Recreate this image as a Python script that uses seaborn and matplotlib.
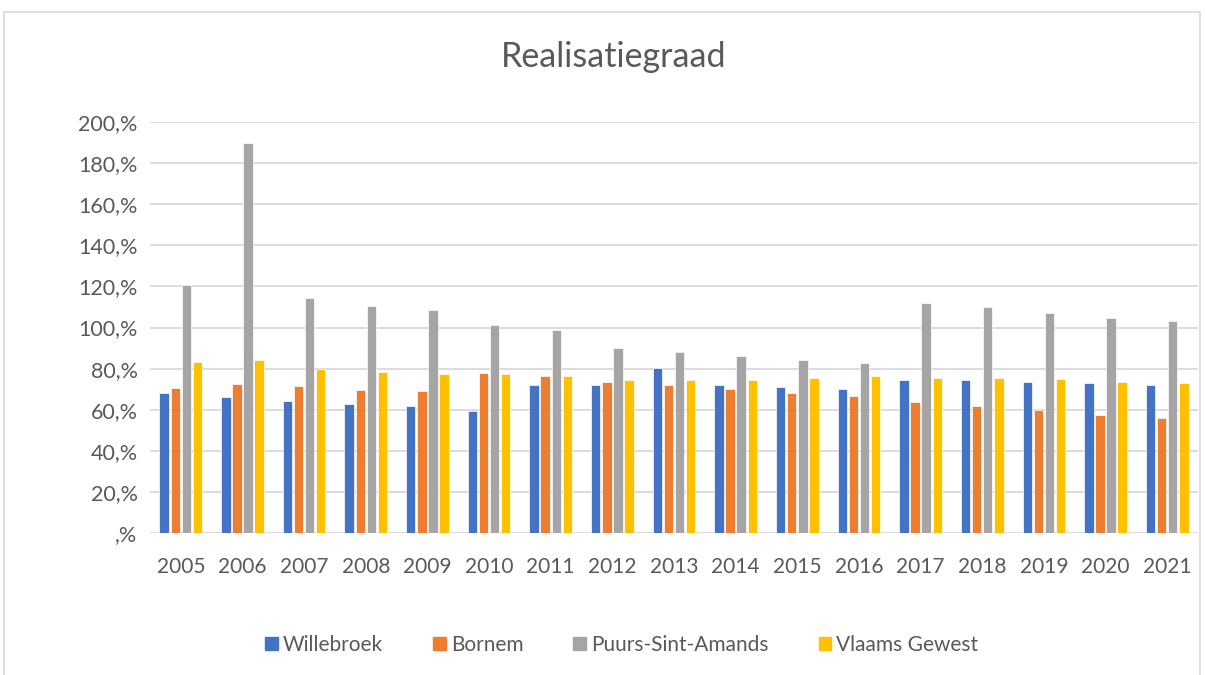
import matplotlib
matplotlib.use("Agg")
import matplotlib.pyplot as plt
from matplotlib.patches import Rectangle
import numpy as np
import pandas as pd
import seaborn as sns

years = [str(y) for y in range(2005, 2022)]
series_names = ["Willebroek", "Bornem", "Puurs-Sint-Amands", "Vlaams Gewest"]

willebroek = [68.2, 66.2, 64.3, 62.8, 61.7, 59.6, 72.1, 71.8, 80.2, 71.8,
              71.0, 70.2, 74.6, 74.4, 73.6, 72.8, 72.0]
bornem = [70.8, 72.4, 71.7, 69.5, 69.0, 78.0, 76.5, 73.4, 71.8, 70.0,
          68.1, 66.6, 63.9, 61.8, 60.0, 57.5, 56.2]
puurs = [120.6, 190.0, 114.3, 110.6, 108.3, 101.1, 98.9, 89.8, 88.2, 85.9,
         84.1, 82.7, 112.0, 109.9, 107.0, 104.4, 103.4]
vlaams = [83.2, 84.2, 79.8, 78.4, 77.6, 77.3, 76.5, 74.4, 74.6, 74.6,
          75.2, 76.3, 75.2, 75.2, 74.7, 73.6, 72.9]

y_ticks = [0, 20, 40, 60, 80, 100, 120, 140, 160, 180, 200]
y_tick_labels = [",%", "20,%", "40,%", "60,%", "80,%", "100,%", "120,%",
                 "140,%", "160,%", "180,%", "200,%"]

colors = ["#4472C4", "#ED7D31", "#A5A5A5", "#FFC000"]
text_color = "#595959"

# long format for seaborn
frames = []
for name, vals in zip(series_names, [willebroek, bornem, puurs, vlaams]):
    frames.append(pd.DataFrame({"jaar": years, "reeks": name, "waarde": vals}))
df = pd.concat(frames, ignore_index=True)

sns.set_theme(style="white")
plt.rcParams["font.family"] = ["Lato", "DejaVu Sans"]

fig = plt.figure(figsize=(12.05, 6.75), dpi=100)
ax = fig.add_axes([150 / 1205, 1 - 533 / 675, 1048 / 1205, 411 / 675])

sns.barplot(
    data=df, x="jaar", y="waarde", hue="reeks",
    hue_order=series_names, palette=colors, saturation=1,
    width=0.72, gap=0.15, ax=ax, legend=False,
    edgecolor="white", linewidth=0.5,
)

ax.set_ylim(0, 200)
ax.set_xlim(-0.5, len(years) - 0.5)
ax.set_yticks(y_ticks)
ax.set_yticklabels(y_tick_labels)
ax.set_xlabel("")
ax.set_ylabel("")
ax.grid(axis="y", color="#D9D9D9", linewidth=1.3)
ax.set_axisbelow(True)
for s in ax.spines.values():
    s.set_visible(False)
ax.tick_params(axis="y", length=0, pad=9, labelsize=15.5, labelcolor=text_color)
ax.tick_params(axis="x", length=0, pad=17, labelsize=15, labelcolor=text_color)

fig.text(0.5095, 1 - 57 / 675, "Realisatiegraad", ha="center", va="center",
         fontsize=24.5, color=text_color)

handles = [Rectangle((0, 0), 1, 1, color=c) for c in colors]
fig.legend(handles, series_names, loc="center", bbox_to_anchor=(0.516, 1 - 645 / 675),
           ncol=4, frameon=False, fontsize=15, labelcolor=text_color,
           handlelength=0.6, handleheight=0.6, handletextpad=0.25, columnspacing=2.4)

# chart area border
fig.patches.append(Rectangle((4 / 1205, -0.02), 1196 / 1205, 1.02 - 12 / 675,
                             transform=fig.transFigure, fill=False,
                             edgecolor="#D9D9D9", linewidth=1.2))

fig.savefig("out.png", dpi=100)
